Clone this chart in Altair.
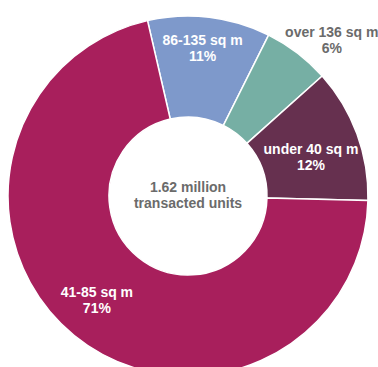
import math
import altair as alt
import pandas as pd

categories = ["86-135 sq m", "over 136 sq m", "under 40 sq m", "41-85 sq m"]
shares = [11, 6, 12, 71]
colors = ["#7E99CB", "#76AFA4", "#66304F", "#A81F5C"]
center_lines = ["1.62 million", "transacted units"]

df = pd.DataFrame({"cat": categories, "share": shares, "idx": list(range(len(categories)))})

start = -13 * math.pi / 180
theta_scale = alt.Scale(range=[start, start + 2 * math.pi])
cx, cy = 188, 196
font = "Liberation Sans"
LH = 16
SHIFT = -LH / 2  # centre a two-line block on its anchor

base = alt.Chart(df).encode(
    theta=alt.Theta("share:Q", stack=True, scale=theta_scale),
    order=alt.Order("idx:Q"),
    x=alt.value(cx),
    y=alt.value(cy),
)

arcs = base.mark_arc(outerRadius=180, innerRadius=79, stroke="white", strokeWidth=1.5).encode(
    color=alt.Color("cat:N", scale=alt.Scale(domain=categories, range=colors), legend=None)
)


def label_layer(cat, radius, dx, dy, color):
    return base.transform_calculate(
        lbl=f"datum.cat == '{cat}' ? [datum.cat, datum.share + '%'] : ''"
    ).mark_text(
        radius=radius, dx=dx, dy=dy + SHIFT, font=font, fontSize=14, fontWeight="bold",
        color=color, lineHeight=LH, align="center", baseline="middle"
    ).encode(text="lbl:N")


labels = [
    label_layer("86-135 sq m", 148, -3, 0, "white"),
    label_layer("over 136 sq m", 212, 15, 13, "#6b6b6b"),
    label_layer("under 40 sq m", 130, 1, 7, "white"),
    label_layer("41-85 sq m", 141, -2, -4, "white"),
]

center = alt.Chart(pd.DataFrame({"t": [center_lines]})).mark_text(
    font=font, fontSize=14, fontWeight="bold", color="#6b6b6b", dy=SHIFT,
    lineHeight=LH, align="center", baseline="middle"
).encode(x=alt.value(cx), y=alt.value(cy), text="t")

chart = alt.layer(arcs, *labels, center).properties(
    width=378, height=367, padding=0,
    autosize=alt.AutoSizeParams(type="none"),
).configure_view(stroke=None)

chart.save("out.html", embed_options={"renderer": "svg", "actions": False})
